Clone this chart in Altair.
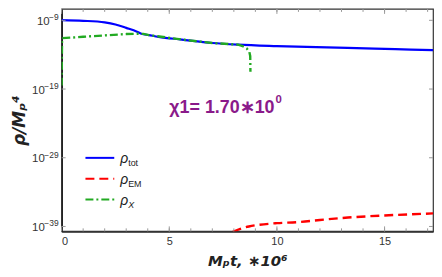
import altair as alt
import pandas as pd

# ---- data (log10 of rho / M_p^4 versus M_p t in units of 1e6) ----
blue_x = [0, 1, 2, 2.5, 3, 3.5, 3.7, 4.06, 4.5, 5.58, 7, 8.2, 10, 13.28, 15.5, 17.25]
blue_y = [-8.97, -9.07, -9.3, -9.6, -10.1, -10.65, -10.95, -11.15, -11.4, -11.8, -12.3, -12.54, -12.75, -13.0, -13.2, -13.35]

red_x = [7.95, 8.3, 8.7, 9.2, 10, 11, 12, 13.3, 15, 17.25]
red_y = [-39.8, -39.35, -39.0, -38.75, -38.52, -38.36, -38.05, -37.7, -37.4, -37.1]

green_x = [0, 0.02, 1, 2, 3, 3.5, 3.8, 4.06, 5.58, 7, 8.2, 8.44, 8.6, 8.72, 8.76, 8.77]
green_y = [-18.5, -11.6, -11.4, -11.2, -11.0, -10.95, -10.98, -11.15, -11.8, -12.3, -12.54, -12.8, -13.1, -13.6, -14.2, -16.5]

x_major = [0, 5, 10, 15]
x_minor = list(range(0, 18))
y_ticks = [-39, -29, -19, -9]
y_exps = ["−39", "−29", "−19", "−9"]

legend_names = ["tot", "EM", "X"]
legend_colors = ["#0000ff", "#ff0000", "#22aa22"]

note_text = ["χ1= 1.70∗10"]
note_sup = ["0"]
note_x = [5.0]
note_y = [-21.8]

W, H = 374, 224
xs = alt.Scale(domain=[0, 17.25], nice=False, zero=False)
ys = alt.Scale(domain=[-39.71, -7.34], nice=False, zero=False)
FONT = "DejaVu Sans"
LFONT = "Liberation Sans"

def frame(xv, yv):
    return pd.DataFrame({"x": xv, "y": yv, "i": list(range(len(xv)))})

x_axis = alt.Axis(values=x_major, ticks=False, labelFont=LFONT, labelFontSize=11,
                  labelColor="#333", domainColor="#333", domainWidth=2, grid=False,
                  title="Mₚt, ∗10⁶", titleFont=FONT, titleFontSize=15,
                  titleFontWeight="bold", titleFontStyle="italic", titleColor="#222",
                  titleY=29, titleBaseline="middle", labelPadding=4)
y_axis = alt.Axis(values=y_ticks, labels=False, ticks=False,
                  domainColor="#111", domainWidth=1.5, grid=False,
                  title="ρ/Mₚ⁴", titleFont=FONT, titleFontSize=17,
                  titleFontWeight="bold", titleFontStyle="italic", titleColor="#222",
                  titleX=-42, titleY=112, titleAngle=-90, titleBaseline="middle", titleAlign="center")

X = alt.X("x:Q", scale=xs, axis=x_axis)
Y = alt.Y("y:Q", scale=ys, axis=y_axis)

def line(df, color, dash=None, width=2.0, interp="linear"):
    kw = dict(color=color, strokeWidth=width, clip=True, interpolate=interp)
    if dash:
        kw["strokeDash"] = dash
    return alt.Chart(df).mark_line(**kw).encode(x=X, y=Y, order="i:Q")

blue = line(frame(blue_x, blue_y), "#0000ff", width=2.2, interp="monotone")
red = line(frame(red_x, red_y), "#ff0000", dash=[9, 5], width=2.4, interp="monotone")
green = line(frame(green_x, green_y), "#22aa22", dash=[8, 3, 2, 3], width=2.4)

tick_col = "#999"
minor_df = pd.DataFrame({"x": x_minor})
major_df = pd.DataFrame({"x": x_major})
ytick_df = pd.DataFrame({"y": y_ticks})
ticks = [
    alt.Chart(minor_df).mark_rule(color=tick_col, strokeWidth=1).encode(
        x=X, y=alt.value(H), y2=alt.value(H - 3)),
    alt.Chart(major_df).mark_rule(color=tick_col, strokeWidth=1).encode(
        x=X, y=alt.value(H), y2=alt.value(H - 5)),
    alt.Chart(minor_df).mark_rule(color=tick_col, strokeWidth=1).encode(
        x=X, y=alt.value(0), y2=alt.value(3)),
    alt.Chart(major_df).mark_rule(color=tick_col, strokeWidth=1).encode(
        x=X, y=alt.value(0), y2=alt.value(5)),
    alt.Chart(ytick_df).mark_rule(color=tick_col, strokeWidth=1).encode(
        y=Y, x=alt.value(0), x2=alt.value(4)),
    alt.Chart(ytick_df).mark_rule(color=tick_col, strokeWidth=1).encode(
        y=Y, x=alt.value(W), x2=alt.value(W - 4)),
]

# y tick labels: "10" with a raised exponent
lab_df = pd.DataFrame({"y": y_ticks, "e": y_exps})
wide_df = lab_df[lab_df["e"].str.len() > 2]
narrow_df = lab_df[lab_df["e"].str.len() <= 2]
ylabels = [
    alt.Chart(lab_df).mark_text(align="right", baseline="middle", font=LFONT, fontSize=8.5,
                                color="#333", dy=-3).encode(
        y=Y, x=alt.value(-3), text="e:N"),
    alt.Chart(wide_df).mark_text(align="right", baseline="middle", font=LFONT, fontSize=11.5,
                                 color="#333", dy=1.5).encode(
        y=Y, x=alt.value(-17), text=alt.value("10")),
    alt.Chart(narrow_df).mark_text(align="right", baseline="middle", font=LFONT, fontSize=11.5,
                                   color="#333", dy=1.5).encode(
        y=Y, x=alt.value(-12), text=alt.value("10")),
]

note = alt.Chart(pd.DataFrame({"x": note_x, "y": note_y, "t": note_text})).mark_text(
    align="left", baseline="middle", font=LFONT, fontSize=18,
    fontWeight="bold", color="#8a1a8a"
).encode(x=X, y=Y, text="t:N")
note_s = alt.Chart(pd.DataFrame({"x": note_x, "y": note_y, "t": note_sup})).mark_text(
    align="left", baseline="middle", font=LFONT, fontSize=11.5,
    fontWeight="bold", color="#8a1a8a", dx=107, dy=-8
).encode(x=X, y=Y, text="t:N")

# manual legend
legend_layers = []
row_y = [150, 171, 192]
dashes = [None, [9, 5], [8, 3, 2, 3]]
for name, col, ry, d in zip(legend_names, legend_colors, row_y, dashes):
    kw = dict(color=col, strokeWidth=2)
    if d:
        kw["strokeDash"] = d
    legend_layers.append(
        alt.Chart(pd.DataFrame({"n": [name]})).mark_rule(**kw).encode(
            x=alt.value(24), x2=alt.value(53), y=alt.value(ry))
    )
    legend_layers.append(
        alt.Chart(pd.DataFrame({"t": ["ρ"]})).mark_text(
            align="left", baseline="middle", font=LFONT, fontSize=14,
            fontStyle="italic", color="#222"
        ).encode(x=alt.value(59), y=alt.value(ry + 1), text="t:N")
    )
    legend_layers.append(
        alt.Chart(pd.DataFrame({"t": [name]})).mark_text(
            align="left", baseline="middle", font=LFONT, fontSize=9,
            fontStyle="italic" if name == "X" else "normal", color="#222"
        ).encode(x=alt.value(67), y=alt.value(ry + 5), text="t:N")
    )

chart = alt.layer(blue, red, green, *ticks, *ylabels, note, note_s, *legend_layers).properties(
    width=W, height=H,
    autosize=alt.AutoSizeParams(type="none"),
    padding={"left": 54, "top": 0, "right": 1, "bottom": 37},
).configure_view(stroke="#333", strokeWidth=1.2)

chart.save("out.html", embed_options={"renderer": "svg", "actions": False})
